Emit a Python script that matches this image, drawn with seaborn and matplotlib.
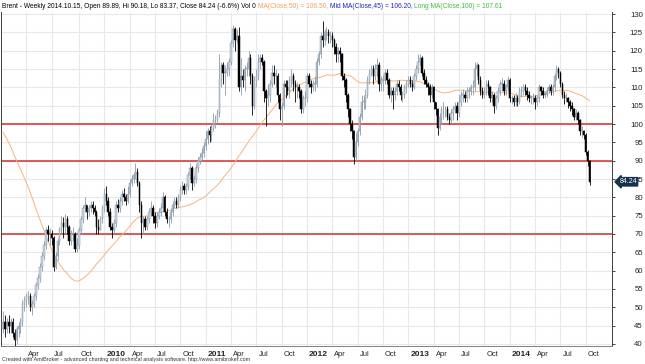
import numpy as np
import pandas as pd
import matplotlib
matplotlib.use('Agg')
import matplotlib.pyplot as plt
import matplotlib.transforms as mtransforms
import seaborn as sns

# weekly Brent closes for 2008, only used to warm up the 50 week average
hist_2008 = [97, 91, 90, 92, 91, 94, 98, 100, 104, 108, 101, 105, 106, 110, 115, 116, 112,
             123, 126, 132, 131, 127, 134, 134, 140, 144, 142, 129, 125, 124, 114, 113, 114, 115,
             108, 100, 98, 106, 98, 91, 80, 72, 64, 62, 60, 57, 52, 55, 47, 45, 41, 38, 44]

# weekly bars, 2009-01-07 .. 2014-10-15 (open = previous close)
close_2009 = [46, 44, 46, 45, 46, 43, 41, 44, 45, 46, 51, 52, 53, 53, 50, 51, 53, 56, 58, 61, 64,
              67, 71, 70, 70, 69, 61, 64, 68, 71, 73, 72, 74, 72, 68, 70, 70, 66, 67, 71, 74, 77,
              78, 76, 77, 78, 77, 76, 72, 71, 74, 77]
hi_2009 = [49, 48, 47, 48, 47, 47, 44, 45, 46, 47, 52, 53, 54, 54.5, 54, 52, 54, 57, 59, 62, 65,
           68, 72, 72.5, 71.5, 71, 69.5, 65, 69, 72, 75, 74.5, 75.5, 75, 72.5, 71, 72, 70.5, 69, 72,
           75, 78, 80, 78, 78, 79, 79, 78, 76.5, 74, 75, 78]
lo_2009 = [43, 42, 43, 43, 43, 42, 39.5, 40, 42, 43, 45, 49, 50, 51, 49, 48, 50, 52, 55, 57, 60,
           63, 66, 68, 67, 67, 60, 60.5, 63, 67, 70, 69, 70, 70, 67, 67, 68, 65, 65, 66, 70, 73,
           76, 74, 75, 76, 75.5, 75, 70, 70, 71, 73]

close_2010 = [81, 79, 76, 72, 71, 73, 78, 77, 79, 81, 80, 79, 81, 84, 85, 86, 87, 84, 78, 73, 74,
              72, 74, 76, 77, 75, 73, 75, 76, 77, 80, 76, 74, 74, 76, 78, 79, 78, 80, 82, 83, 82,
              83, 86, 88, 84, 85, 88, 90, 91, 92, 94]
hi_2010 = [82.5, 83, 80, 77, 73, 74, 79, 79.5, 80, 82, 82.5, 81, 83, 85, 86, 87, 89.5, 88, 84.5,
           79, 75, 75, 75, 77, 79, 78, 76, 76, 77, 78.5, 81.5, 80.5, 77, 75, 77, 79, 80, 80, 81,
           83, 84.5, 84, 84, 87, 89.5, 88.5, 86, 89, 91, 92, 93.5, 95]
lo_2010 = [76, 78, 75, 71, 69, 70, 72, 76, 76, 78, 79, 78, 78.5, 80, 83, 84, 85, 83, 76, 69, 70,
           71, 71, 73, 75, 73, 71.5, 72, 74, 75, 76, 75, 73, 72, 73, 75, 77, 77, 77, 79, 81, 81,
           81, 82, 85, 82, 83, 84, 87, 89, 90, 91]

close_2011 = [96, 98, 97, 99, 101, 101, 103, 112, 116, 114, 114, 115, 117, 122, 126, 123, 124,
              110, 113, 112, 115, 115, 118, 113, 105, 112, 113, 117, 118, 117, 109, 107, 108, 111,
              114, 113, 113, 108, 104, 105, 111, 110, 109, 112, 113, 111, 110, 110, 109, 104, 107,
              107]
hi_2011 = [98, 99, 99.5, 100, 103, 102.5, 104, 119, 117, 117, 116, 117, 118, 123, 127, 126.5,
           126, 126.5, 118, 115, 116, 117, 120, 119, 114, 113, 115, 119, 119, 119, 117.5, 109.5,
           111, 112, 116, 116, 115, 114, 108.5, 106, 112, 112, 112, 113, 115, 114, 112, 111.5,
           111, 109.5, 108, 109]
lo_2011 = [93, 94.5, 95, 95.5, 98, 99, 100, 102, 110, 111, 108, 113, 113, 116, 121, 120, 122,
           109, 108, 110, 109, 113, 113, 111, 102.5, 104, 110, 112, 115, 116, 106, 99.5, 105,
           106, 110, 111, 110, 106, 101, 99.5, 104, 107, 108, 107, 110, 109, 106, 107, 107, 103,
           103, 105]

close_2012 = [113, 111, 110, 111, 111, 117, 119, 124, 123, 125, 125, 124, 124, 123, 121, 119,
              120, 119, 113, 112, 108, 104, 100, 98, 91, 95, 98, 102, 106, 106, 108, 112, 114,
              115, 113, 115, 116, 111, 112, 112, 114, 112, 108, 109, 108, 109, 111, 110, 108, 108,
              110, 111]
hi_2012 = [114, 114, 112, 112, 113, 118, 120, 125, 128, 126, 126.5, 126, 125.5, 125, 123.5, 122,
           121, 121, 119.5, 114, 112.5, 108.5, 104.5, 101, 98.5, 97.5, 99, 103, 108, 108, 109.5,
           113, 115, 116, 116, 116.5, 118, 117, 113, 113.5, 115, 115, 112.5, 110, 110, 110, 112,
           112, 111, 109, 111, 112]
lo_2012 = [106, 110, 108.5, 109, 109, 110, 116, 118, 121, 121.5, 123, 122, 122, 121, 119, 117,
           117, 117, 112, 110, 106, 102, 98, 96, 89, 90, 94, 97, 101, 104, 104, 107, 111, 113,
           111, 112, 113, 109, 109, 109, 111, 111, 107, 106, 104, 106.5, 108, 109, 106.5, 106,
           107, 108.5]

close_2013 = [112, 111, 110, 113, 115, 117, 118, 114, 112, 111, 110, 108, 110, 106, 104, 99, 102,
              104, 104, 104, 102, 101, 103, 104, 105, 103, 106, 108, 108, 107, 109, 109, 110, 110,
              115, 116, 112, 109, 108, 109, 111, 110, 107, 108, 105, 107, 109, 111, 111, 109, 110,
              112]
hi_2013 = [113, 113, 112, 114, 116, 119, 119, 118.5, 115, 113, 111.5, 111, 111, 110.5, 106,
           104.5, 103, 105, 106, 105, 105, 103, 104, 105, 106, 106, 108, 109, 109.5, 109, 110,
           110, 111, 112, 117, 117, 116.5, 113, 110, 110, 112, 112, 110.5, 109, 108.5, 108, 110,
           112, 112.5, 112, 111, 113]
lo_2013 = [110, 110, 109, 109.5, 112, 114, 116, 113, 111, 110, 108, 106, 107, 104, 102.5, 97,
           98.5, 100, 101.5, 102, 101, 100, 100, 101, 103, 101, 102, 105, 106, 106, 106, 107, 108,
           108, 109, 113, 111, 108, 107, 107, 108, 108, 106, 106, 103, 104, 106, 108, 109, 108,
           108, 109]

close_2014 = [107, 107, 106, 107, 106, 109, 109, 110, 109, 108, 107, 107, 107, 106, 107, 110, 109,
              108, 108, 109, 110, 109, 110, 113, 115, 114, 111, 108, 107, 107, 106, 105, 104, 102,
              103, 101, 98, 98, 97, 92.3, 89.89, 84.24]
hi_2014 = [112.5, 108, 108, 108.5, 108, 110, 110.5, 111, 111, 110, 109, 108, 108.5, 108, 108,
           111, 110.5, 110, 109, 110, 111, 111, 111, 114, 116, 115.5, 114.5, 111.5, 109, 108.5,
           107.5, 106.5, 106, 104.5, 104, 103.5, 101.5, 99.5, 98.5, 97.5, 93, 90.18]
lo_2014 = [106, 105.5, 105, 105, 105, 105.5, 107.5, 108, 108, 106.5, 106, 105.5, 105.5, 104, 105,
           106, 108, 107, 107, 107.5, 108.5, 108, 108, 109, 112, 112.5, 110, 107, 105.5, 106,
           104.5, 103.5, 102.5, 101, 101, 100, 97, 96.5, 96, 91.5, 88.5, 83.37]

levels = [100, 90, 70]
month_names = {1: None, 4: 'Apr', 7: 'Jul', 10: 'Oct'}

header = [("Brent - Weekly 2014.10.15, Open 89.89, Hi 90.18, Lo 83.37, Close 84.24 (-6.6%) Vol 0 ", '#000000'),
          ("MA(Close,50) = 106.50, ", '#f0a060'),
          ("Mid MA(Close,45) = 106.20, ", '#2323c8'),
          ("Long MA(Close,100) = 107.61", '#3cbf3c')]
credit = "Created with AmiBroker - advanced charting and technical analysis software. http://www.amibroker.com"

sns.set_style('white')
plt.rcParams['font.family'] = ['Liberation Sans', 'DejaVu Sans']

close = np.array(close_2009 + close_2010 + close_2011 + close_2012 + close_2013 + close_2014, float)
high = np.array(hi_2009 + hi_2010 + hi_2011 + hi_2012 + hi_2013 + hi_2014, float)
low = np.array(lo_2009 + lo_2010 + lo_2011 + lo_2012 + lo_2013 + lo_2014, float)
n = len(close)
dates = pd.date_range('2009-01-07', periods=n, freq='7D')
opn = np.r_[hist_2008[-1], close[:-1]]
high = np.maximum(high, np.maximum(opn, close))
low = np.minimum(low, np.minimum(opn, close))
ma50 = pd.Series(hist_2008 + list(close)).rolling(50).mean().to_numpy()[len(hist_2008):]
df = pd.DataFrame({'bar': np.arange(n), 'ma50': ma50})

W, H = 645, 364
fig = plt.figure(figsize=(W / 100, H / 100), dpi=100)
ax = fig.add_axes([1 / W, 18 / H, 611 / W, 334 / H])
ax.set_xlim(-1, n + 10.5)
ax.set_ylim(39.45, 130.55)

x = np.arange(n)
up = close >= opn
body_lo = np.minimum(opn, close)
body_h = np.maximum(np.abs(close - opn), 0.2)
up_edge, up_fill = '#8a9aab', '#c8d6e3'

for lv in levels:
    ax.axhline(lv, color='#d33030', lw=1.1, zorder=1.5)

sns.lineplot(data=df, x='bar', y='ma50', ax=ax, color='#f7b47c', linewidth=0.7, zorder=1.8)

ax.vlines(x[up], low[up], high[up], color=up_edge, lw=0.6, zorder=2)
ax.vlines(x[~up], low[~up], high[~up], color='black', lw=0.6, zorder=2)
ax.bar(x[up], body_h[up], bottom=body_lo[up], width=0.75, color=up_fill,
       edgecolor=up_edge, linewidth=0.35, zorder=3)
ax.bar(x[~up], body_h[~up], bottom=body_lo[~up], width=0.75, color='black',
       edgecolor='black', linewidth=0.35, zorder=3)

# quarter ticks on first bar of Jan/Apr/Jul/Oct
tick_pos, tick_lab, tick_year = [], [], []
for i in range(1, n):
    m = dates[i].month
    if m in month_names and dates[i - 1].month != m:
        tick_pos.append(i)
        tick_lab.append(str(dates[i].year) if m == 1 else month_names[m])
        tick_year.append(m == 1)

ax.set_xticks(tick_pos)
ax.set_xticklabels(tick_lab)
ax.set_yticks(np.arange(40, 131, 5))
ax.grid(True, color='#e8e8e8', lw=0.8, zorder=0)
ax.set_axisbelow(True)
ax.set_xlabel('')
ax.set_ylabel('')

ax.yaxis.tick_right()
ax.tick_params(axis='y', direction='out', length=2.2, width=0.6, colors='#222222',
               labelsize=5.6, pad=20)
for lab in ax.get_yticklabels():
    lab.set_horizontalalignment('right')
ax.tick_params(axis='x', direction='out', length=3, width=0.6, colors='#222222',
               labelsize=5.4, pad=0.5)
shift = mtransforms.ScaledTranslation(1.5 / 72, 0, fig.dpi_scale_trans)
for lab, yr in zip(ax.get_xticklabels(), tick_year):
    lab.set_horizontalalignment('left')
    lab.set_transform(lab.get_transform() + shift)
    if yr:
        lab.set_fontweight('bold')
        lab.set_fontsize(6)

for side in ['left', 'right', 'bottom']:
    ax.spines[side].set_visible(True)
    ax.spines[side].set_linewidth(0.7)
ax.spines['left'].set_color('#404040')
ax.spines['right'].set_color('#404040')
ax.spines['bottom'].set_color('#808080')
ax.spines['top'].set_visible(False)

# last close tag
ax.text(1.012, close[-1], f'{close[-1]:.2f}', transform=ax.get_yaxis_transform(),
        ha='left', va='center', fontsize=5.0, color='white', zorder=5,
        bbox=dict(boxstyle='larrow,pad=0.1', fc='#17324d', ec='#17324d'))

# header in coloured pieces
renderer = fig.canvas.get_renderer()
xp = 2.0
for txt, col in header:
    t = fig.text(xp / W, 1 - 6 / H, txt, color=col, fontsize=4.8, va='center', ha='left')
    xp = t.get_window_extent(renderer).x1

fig.text(2 / W, 4 / H, credit, fontsize=3.85, color='#333333', va='center', ha='left')

fig.savefig('out.png', dpi=100)
